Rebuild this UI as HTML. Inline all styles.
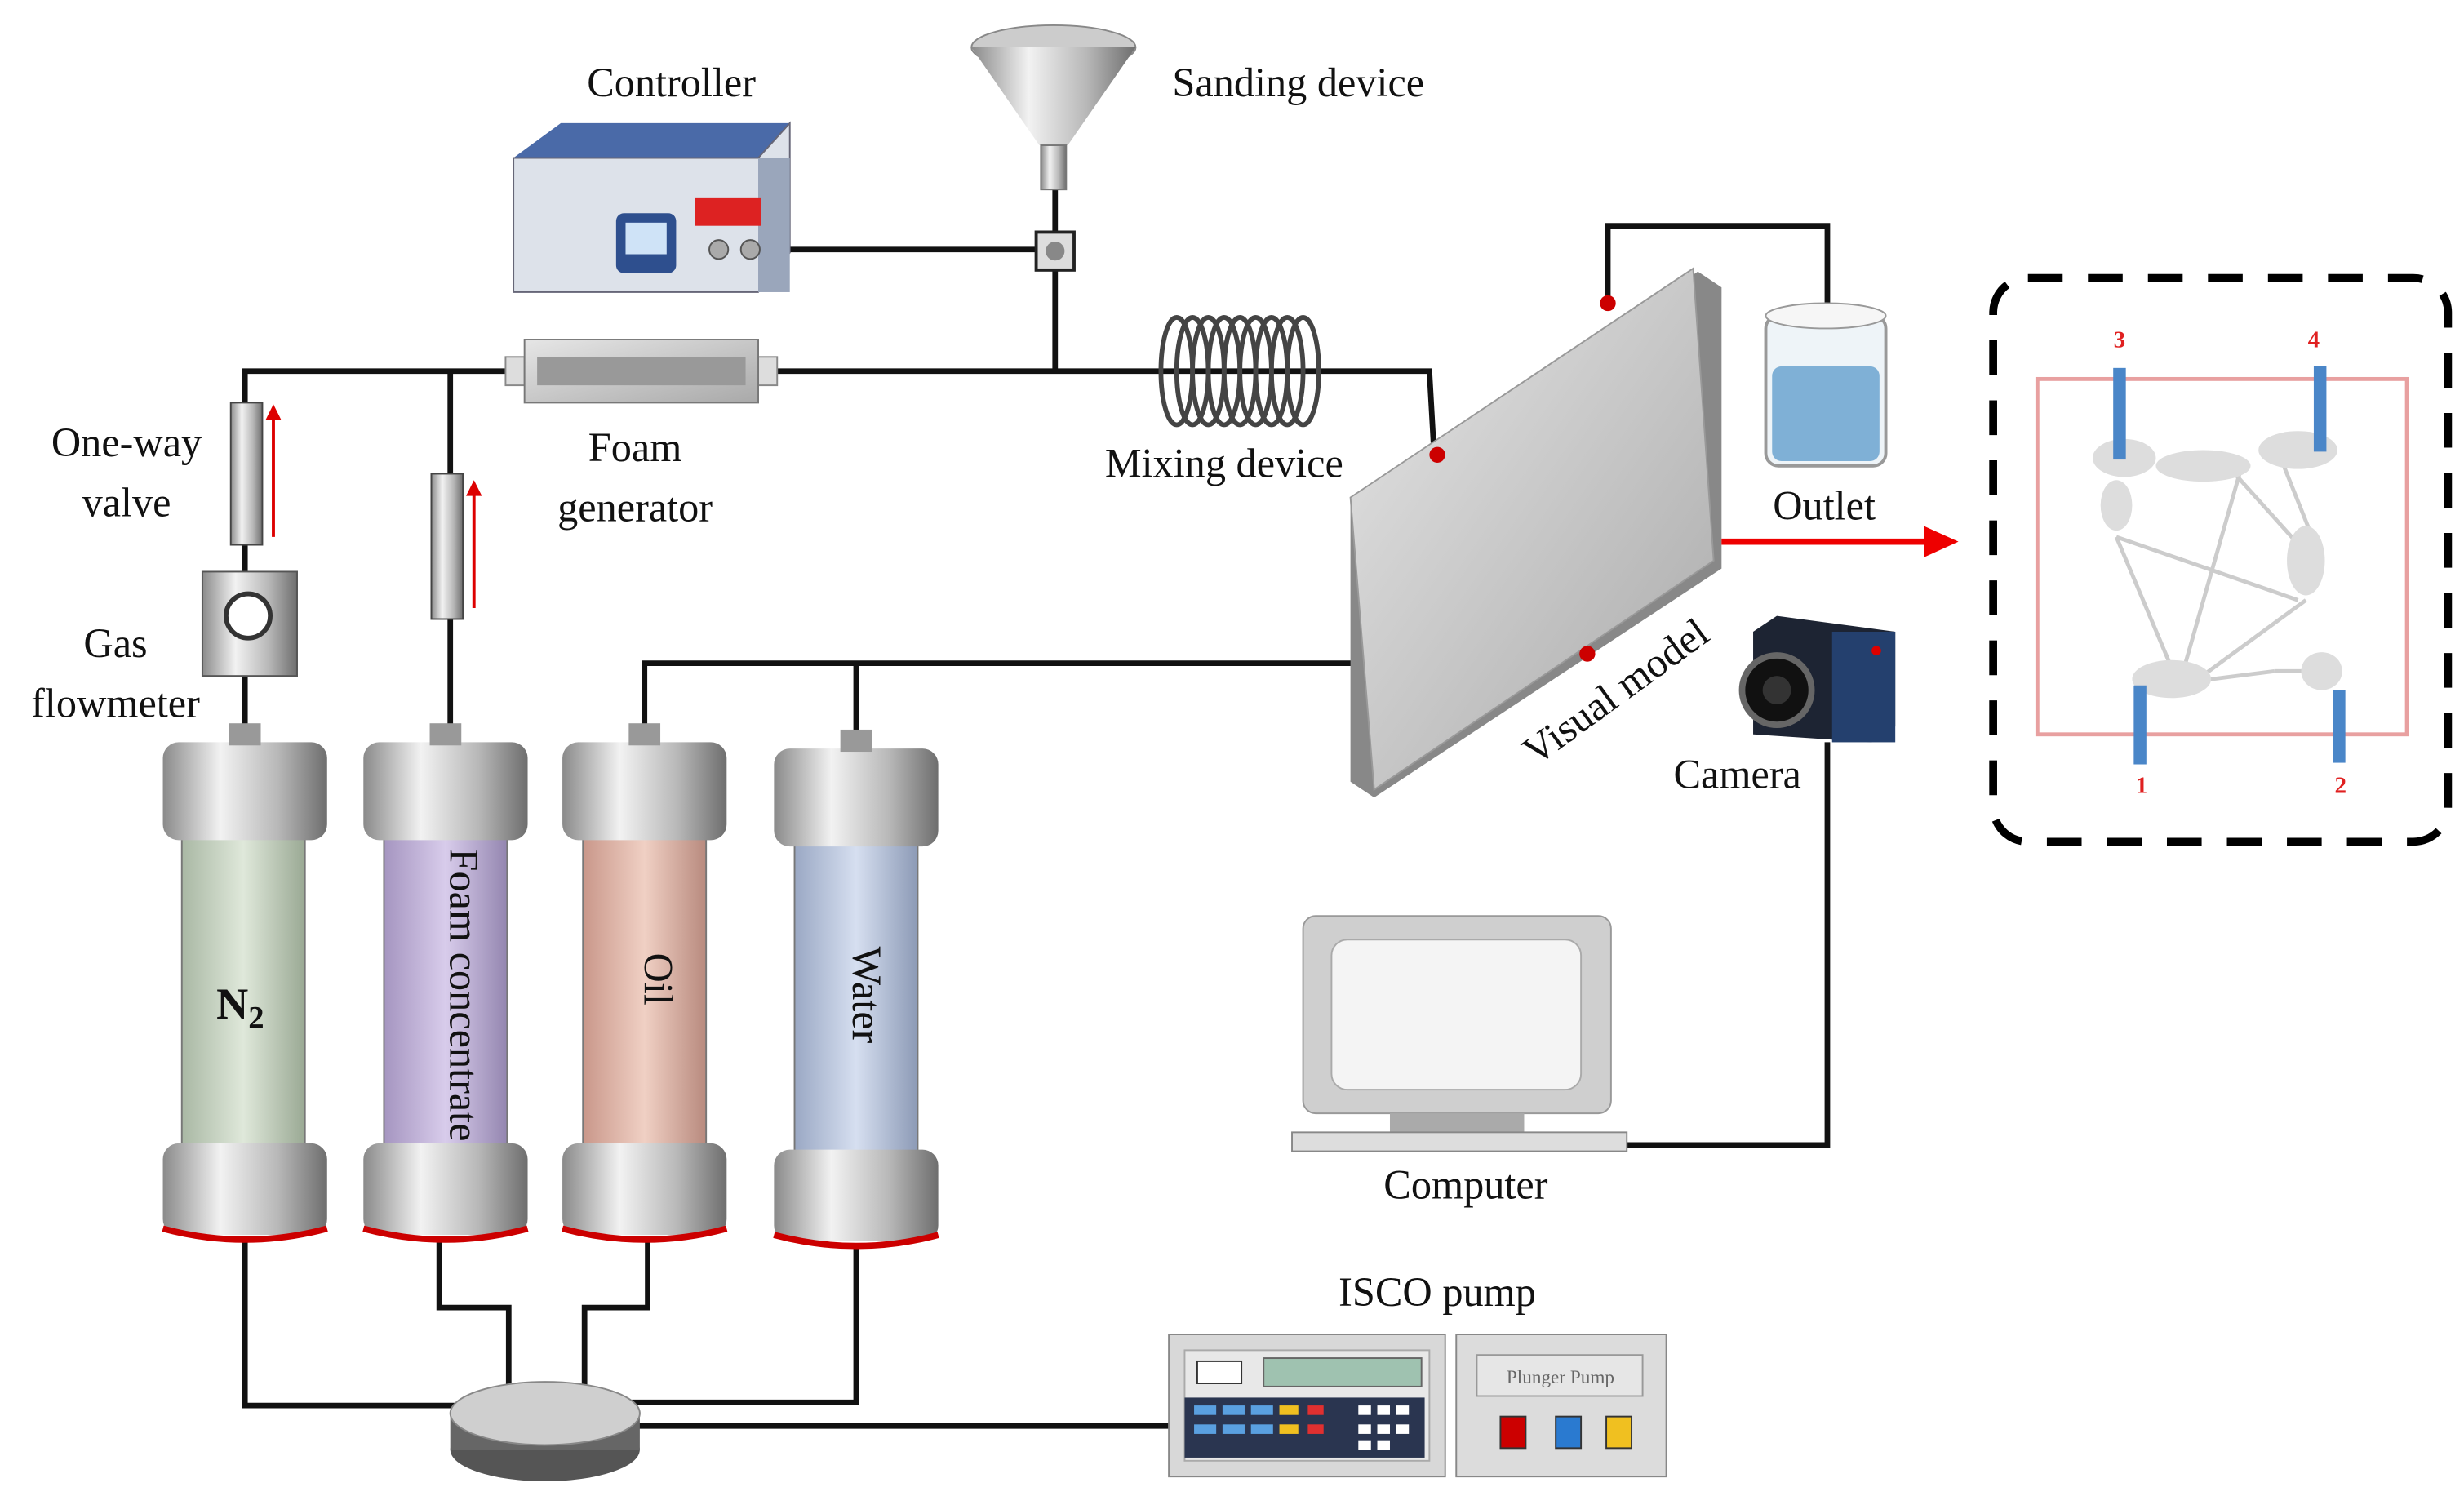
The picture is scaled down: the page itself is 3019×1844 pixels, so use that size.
<!DOCTYPE html>
<html><head><meta charset="utf-8"><style>
html,body{margin:0;padding:0;background:#fff;}
svg{display:block;}
text{font-family:"Liberation Serif",serif;}
</style></head><body>
<svg width="3019" height="1844" viewBox="0 0 1560 953" xmlns="http://www.w3.org/2000/svg">
<defs>
<linearGradient id="metal" x1="0" x2="1" y1="0" y2="0">
<stop offset="0" stop-color="#8a8a8a"/><stop offset="0.35" stop-color="#f2f2f2"/><stop offset="0.7" stop-color="#b8b8b8"/><stop offset="1" stop-color="#6e6e6e"/></linearGradient>
<linearGradient id="slab" x1="0" x2="1" y1="0" y2="1"><stop offset="0" stop-color="#e6e6e6"/><stop offset="1" stop-color="#a9a9a9"/></linearGradient>
<linearGradient id="gN" x1="0" x2="1"><stop offset="0" stop-color="#a9b8a4"/><stop offset=".5" stop-color="#dfe8da"/><stop offset="1" stop-color="#9aa994"/></linearGradient>
<linearGradient id="gF" x1="0" x2="1"><stop offset="0" stop-color="#a595c0"/><stop offset=".5" stop-color="#d8cceb"/><stop offset="1" stop-color="#9486b0"/></linearGradient>
<linearGradient id="gO" x1="0" x2="1"><stop offset="0" stop-color="#c9978a"/><stop offset=".5" stop-color="#f0d0c4"/><stop offset="1" stop-color="#b88a7e"/></linearGradient>
<linearGradient id="gW" x1="0" x2="1"><stop offset="0" stop-color="#9aa8c4"/><stop offset=".5" stop-color="#d6dff0"/><stop offset="1" stop-color="#8c9ab6"/></linearGradient>
</defs>
<g fill="none" stroke="#111" stroke-width="3.5">
<polyline points="500,158 668,158"/>
<polyline points="668,120 668,235"/>
<polyline points="155,255 155,235 905,235 908,288"/>
<polyline points="285,235 285,300"/>
<polyline points="155,345 155,362"/><polyline points="155,428 155,465"/>
<polyline points="285,392 285,465"/>
<polyline points="408,465 408,420 860,420"/>
<polyline points="542,465 542,420"/>
<polyline points="1018,190 1018,143 1157,143 1157,195"/>
<polyline points="1157,470 1157,725 1030,725"/>
<polyline points="155,785 155,890 290,890"/>
<polyline points="278,785 278,828 322,828 322,878"/>
<polyline points="410,785 410,828 370,828 370,878"/>
<polyline points="542,790 542,888 400,888"/>
<polyline points="400,903 740,903"/>
</g>
<polygon points="325,100 355,78 500,78 500,100" fill="#4a6aa8"/>
<polygon points="325,100 480,100 500,78 500,160 480,185 325,185" fill="#dde2ea" stroke="#667" stroke-width="1"/>
<rect x="480" y="100" width="20" height="85" fill="#9aa6bb"/>
<rect x="390" y="135" width="38" height="38" rx="5" fill="#2e4f8e"/><rect x="396" y="141" width="26" height="20" fill="#cfe3f7"/>
<rect x="440" y="125" width="42" height="18" fill="#d22"/>
<circle cx="455" cy="158" r="6" fill="#aaa" stroke="#555"/><circle cx="475" cy="158" r="6" fill="#aaa" stroke="#555"/>
<ellipse cx="667" cy="30" rx="52" ry="14" fill="#ccc" stroke="#888"/>
<polygon points="615,30 719,30 676,92 658,92" fill="url(#metal)"/>
<rect x="659" y="92" width="16" height="28" fill="url(#metal)" stroke="#777" stroke-width="1"/>
<rect x="656" y="147" width="24" height="24" fill="#ddd" stroke="#222" stroke-width="2"/><circle cx="668" cy="159" r="6" fill="#888"/>
<rect x="320" y="226" width="12" height="18" fill="#ddd" stroke="#888"/><rect x="480" y="226" width="12" height="18" fill="#ddd" stroke="#888"/>
<rect x="332" y="215" width="148" height="40" fill="url(#slab)" stroke="#777"/>
<rect x="340" y="226" width="132" height="18" fill="#999"/>
<g stroke="#444" stroke-width="3" fill="none">
<ellipse cx="745" cy="235" rx="10" ry="34"/><ellipse cx="755" cy="235" rx="10" ry="34"/><ellipse cx="765" cy="235" rx="10" ry="34"/><ellipse cx="775" cy="235" rx="10" ry="34"/><ellipse cx="785" cy="235" rx="10" ry="34"/><ellipse cx="795" cy="235" rx="10" ry="34"/><ellipse cx="805" cy="235" rx="10" ry="34"/><ellipse cx="815" cy="235" rx="10" ry="34"/><ellipse cx="825" cy="235" rx="10" ry="34"/></g>
<rect x="146" y="255" width="20" height="90" fill="url(#metal)" stroke="#444"/>
<line x1="173" y1="340" x2="173" y2="262" stroke="#d00" stroke-width="2"/><polygon points="168,266 178,266 173,256" fill="#d00"/>
<rect x="273" y="300" width="20" height="92" fill="url(#metal)" stroke="#444"/>
<line x1="300" y1="385" x2="300" y2="310" stroke="#d00" stroke-width="2"/><polygon points="295,314 305,314 300,304" fill="#d00"/>
<rect x="128" y="362" width="60" height="66" fill="url(#metal)" stroke="#555"/><circle cx="157" cy="390" r="14" fill="#fff" stroke="#333" stroke-width="3"/>
<g>
<rect x="115" y="530" width="78" height="200" fill="url(#gN)" stroke="#777"/>
<rect x="103" y="470" width="104" height="62" rx="10" fill="url(#metal)"/><rect x="103" y="724" width="104" height="58" rx="10" fill="url(#metal)"/><path d="M103,778 Q155,792 207,778" stroke="#c00" stroke-width="4" fill="none"/><rect x="145" y="458" width="20" height="14" fill="#999"/>
<rect x="243" y="530" width="78" height="200" fill="url(#gF)" stroke="#777"/>
<rect x="230" y="470" width="104" height="62" rx="10" fill="url(#metal)"/><rect x="230" y="724" width="104" height="58" rx="10" fill="url(#metal)"/><path d="M230,778 Q282,792 334,778" stroke="#c00" stroke-width="4" fill="none"/><rect x="272" y="458" width="20" height="14" fill="#999"/>
<rect x="369" y="530" width="78" height="200" fill="url(#gO)" stroke="#777"/>
<rect x="356" y="470" width="104" height="62" rx="10" fill="url(#metal)"/><rect x="356" y="724" width="104" height="58" rx="10" fill="url(#metal)"/><path d="M356,778 Q408,792 460,778" stroke="#c00" stroke-width="4" fill="none"/><rect x="398" y="458" width="20" height="14" fill="#999"/>
<rect x="503" y="535" width="78" height="200" fill="url(#gW)" stroke="#777"/>
<rect x="490" y="474" width="104" height="62" rx="10" fill="url(#metal)"/><rect x="490" y="728" width="104" height="58" rx="10" fill="url(#metal)"/><path d="M490,782 Q542,796 594,782" stroke="#c00" stroke-width="4" fill="none"/><rect x="532" y="462" width="20" height="14" fill="#999"/>
</g>
<ellipse cx="345" cy="918" rx="60" ry="20" fill="#555"/><rect x="285" y="895" width="120" height="23" fill="#666"/><ellipse cx="345" cy="895" rx="60" ry="20" fill="#cfcfcf" stroke="#888"/>
<polygon points="855,320 1075,172 1090,182 1090,360 870,505 855,495" fill="#888"/>
<polygon points="855,315 1072,170 1085,355 870,500" fill="url(#slab)" stroke="#999"/>
<circle cx="1018" cy="192" r="5" fill="#c00"/><circle cx="910" cy="288" r="5" fill="#c00"/><circle cx="1005" cy="414" r="5" fill="#c00"/>
<rect x="1118" y="200" width="76" height="95" rx="8" fill="#eef4f8" stroke="#999" stroke-width="2"/>
<rect x="1122" y="232" width="68" height="60" rx="6" fill="#7fb0d6"/>
<ellipse cx="1156" cy="200" rx="38" ry="8" fill="#f6f6f6" stroke="#999"/>
<line x1="1090" y1="343" x2="1220" y2="343" stroke="#e00" stroke-width="4"/><polygon points="1218,333 1240,343 1218,353" fill="#e00"/>
<polygon points="1110,400 1125,390 1200,400 1200,460 1185,470 1110,465" fill="#1d2433"/>
<rect x="1160" y="400" width="40" height="70" fill="#24406e"/>
<circle cx="1125" cy="437" r="22" fill="#111" stroke="#666" stroke-width="4"/><circle cx="1125" cy="437" r="9" fill="#333"/><circle cx="1188" cy="412" r="3" fill="#d00"/>
<rect x="825" y="580" width="195" height="125" rx="8" fill="#cfcfcf" stroke="#999"/>
<rect x="843" y="595" width="158" height="95" rx="10" fill="#f4f4f4" stroke="#aaa"/>
<rect x="880" y="705" width="85" height="12" fill="#aaa"/>
<rect x="818" y="717" width="212" height="12" fill="#ddd" stroke="#888"/>
<rect x="740" y="845" width="175" height="90" fill="#d8d8d8" stroke="#888"/>
<rect x="750" y="855" width="155" height="70" fill="#e8e8e8" stroke="#aaa"/>
<rect x="800" y="860" width="100" height="18" fill="#9fc2b0" stroke="#666"/>
<rect x="758" y="862" width="28" height="14" fill="#fff" stroke="#333"/>
<rect x="750" y="885" width="152" height="38" fill="#2a3550"/>
<g fill="#5aa0e0"><rect x="756" y="890" width="14" height="6"/><rect x="774" y="890" width="14" height="6"/><rect x="792" y="890" width="14" height="6"/><rect x="756" y="902" width="14" height="6"/><rect x="774" y="902" width="14" height="6"/><rect x="792" y="902" width="14" height="6"/></g>
<g fill="#f0c020"><rect x="810" y="890" width="12" height="6"/><rect x="810" y="902" width="12" height="6"/></g>
<g fill="#e03030"><rect x="828" y="890" width="10" height="6"/><rect x="828" y="902" width="10" height="6"/></g>
<g fill="#fff"><rect x="860" y="890" width="8" height="6"/><rect x="872" y="890" width="8" height="6"/><rect x="884" y="890" width="8" height="6"/><rect x="860" y="902" width="8" height="6"/><rect x="872" y="902" width="8" height="6"/><rect x="884" y="902" width="8" height="6"/><rect x="860" y="912" width="8" height="6"/><rect x="872" y="912" width="8" height="6"/></g>
<rect x="922" y="845" width="133" height="90" fill="#dcdcdc" stroke="#888"/>
<rect x="935" y="858" width="105" height="26" fill="#e6e6e6" stroke="#999"/>
<text x="988" y="876" font-size="12" text-anchor="middle" fill="#666">Plunger Pump</text>
<rect x="950" y="897" width="16" height="20" fill="#c00" stroke="#333"/><rect x="985" y="897" width="16" height="20" fill="#2a7ad0" stroke="#333"/><rect x="1017" y="897" width="16" height="20" fill="#f0c020" stroke="#333"/>
<rect x="1262" y="176" width="288" height="357" rx="22" fill="none" stroke="#000" stroke-width="5" stroke-dasharray="22,16"/>
<rect x="1290" y="240" width="234" height="225" fill="none" stroke="#e8a0a0" stroke-width="2.5"/>
<g stroke="#ccc" stroke-width="2.5"><line x1="1340" y1="340" x2="1378" y2="430"/><line x1="1340" y1="340" x2="1455" y2="380"/><line x1="1378" y1="440" x2="1418" y2="300"/><line x1="1415" y1="300" x2="1460" y2="350"/><line x1="1440" y1="280" x2="1470" y2="355"/><line x1="1378" y1="440" x2="1460" y2="380"/><line x1="1385" y1="432" x2="1440" y2="425"/><line x1="1440" y1="425" x2="1470" y2="425"/></g>
<g fill="#ddd"><ellipse cx="1345" cy="290" rx="20" ry="12"/><ellipse cx="1340" cy="320" rx="10" ry="16"/><ellipse cx="1395" cy="295" rx="30" ry="10"/><ellipse cx="1455" cy="285" rx="25" ry="12"/><ellipse cx="1460" cy="355" rx="12" ry="22"/><ellipse cx="1375" cy="430" rx="25" ry="12"/><ellipse cx="1470" cy="425" rx="13" ry="12"/></g>
<g fill="#4a86c8"><rect x="1338" y="233" width="8" height="58"/><rect x="1465" y="232" width="8" height="54"/><rect x="1351" y="434" width="8" height="50"/><rect x="1477" y="437" width="8" height="46"/></g>
<g font-weight="bold" font-size="15" text-anchor="middle" style="fill:#e02020"><text x="1342" y="220">3</text><text x="1465" y="220">4</text><text x="1356" y="502">1</text><text x="1482" y="502">2</text></g>
<g font-size="26" text-anchor="middle" style="fill:#111">
<text x="425" y="61">Controller</text>
<text x="822" y="61">Sanding device</text>
<text x="80" y="289">One-way</text><text x="80" y="327">valve</text>
<text x="402" y="292">Foam</text><text x="402" y="330">generator</text>
<text x="775" y="302">Mixing device</text>
<text x="73" y="416">Gas</text><text x="73" y="454">flowmeter</text>
<text x="1155" y="329">Outlet</text>
<text x="1100" y="499">Camera</text>
<text x="928" y="759">Computer</text>
<text x="910" y="827">ISCO pump</text>
<text x="1028" y="445" transform="rotate(-36 1028 445)">Visual model</text>
<text x="152" y="645" font-weight="bold" font-size="28">N<tspan font-size="20" dy="6">2</tspan></text>
<text x="285" y="630" transform="rotate(90 285 630)">Foam concentrate</text>
<text x="408" y="620" transform="rotate(90 408 620)">Oil</text>
<text x="540" y="630" transform="rotate(90 540 630)">Water</text>
</g>
</svg>
</body></html>
